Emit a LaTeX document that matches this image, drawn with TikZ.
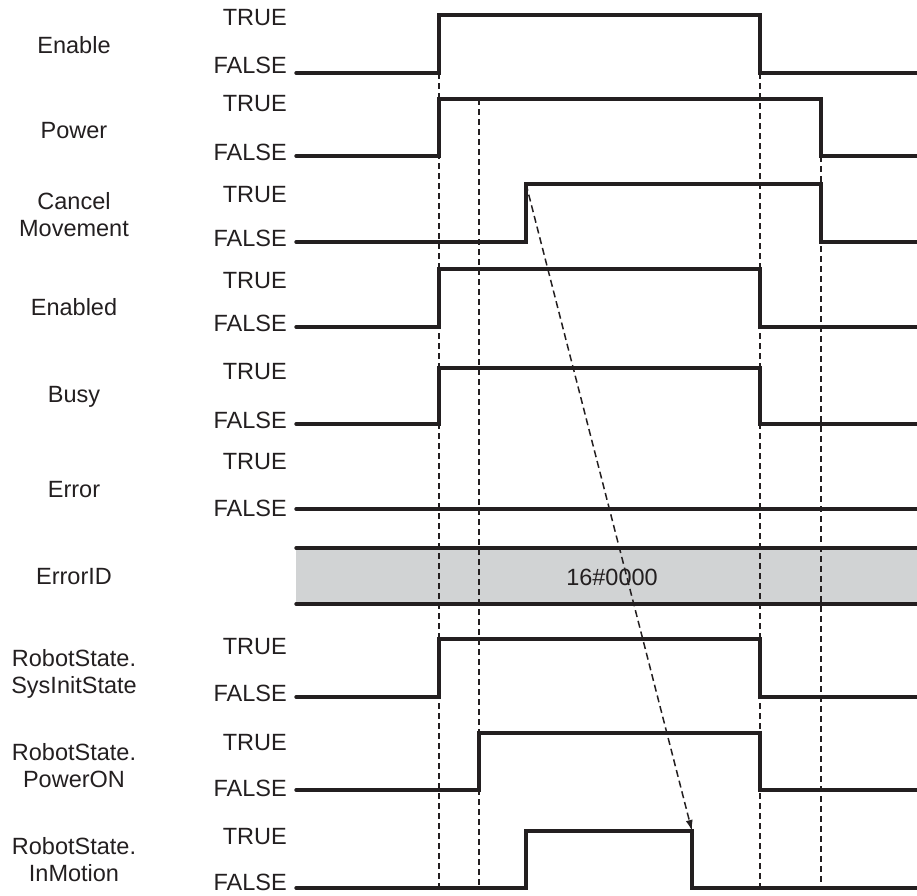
\documentclass[tikz,border=0pt]{standalone}
\usepackage{fontspec}
\setmainfont{Liberation Sans}
\usetikzlibrary{arrows.meta}
\definecolor{ink}{HTML}{231F20}
\definecolor{band}{HTML}{D1D3D4}
\begin{document}
\begin{tikzpicture}[x=1pt,y=-1pt,
  every node/.style={font=\fontsize{23.5}{27}\selectfont, text=ink, inner sep=0pt},
  wave/.style={draw=ink, line width=3.4pt, line join=miter, line cap=round},
  guide/.style={draw=ink, line width=1.5pt, dash pattern=on 6pt off 4pt},
  cause/.style={draw=ink, line width=1.5pt, dash pattern=on 7pt off 4pt, -{Latex[length=11pt,width=7pt]}},
  sig/.style={align=center},
  lvl/.style={anchor=east}]
\useasboundingbox (0,0) rectangle (917,895);

% ErrorID band
\fill[band] (296,548) rectangle (917,604);
\draw[wave] (296,548) -- (917,548);
\draw[wave] (296,604) -- (917,604);
\node (eidv) at (612,577) {16\#0000};

% guide lines
\draw[guide] (439,73) -- (439,888);
\draw[guide] (479,99) -- (479,888);
\draw[guide] (760,73) -- (760,888);
\draw[guide] (821,156) -- (821,888);

% waveforms
\draw[wave] (296,73) -- (439,73) -- (439,15) -- (760,15) -- (760,73) -- (917,73);
\draw[wave] (296,156) -- (439,156) -- (439,99) -- (821,99) -- (821,156) -- (917,156);
\draw[wave] (296,242) -- (526,242) -- (526,184) -- (821,184) -- (821,242) -- (917,242);
\draw[wave] (296,327) -- (439,327) -- (439,269) -- (760,269) -- (760,327) -- (917,327);
\draw[wave] (296,424) -- (439,424) -- (439,368) -- (760,368) -- (760,424) -- (917,424);
\draw[wave] (296,509) -- (917,509);
\draw[wave] (296,697) -- (439,697) -- (439,639) -- (760,639) -- (760,697) -- (917,697);
\draw[wave] (296,790) -- (479,790) -- (479,733) -- (760,733) -- (760,790) -- (917,790);
\draw[wave] (296,888) -- (526,888) -- (526,831) -- (692,831) -- (692,888) -- (917,888);

% cause arrow
\coordinate (cmrise) at (526,184);
\coordinate (imfall) at (692,831);
\draw[cause] (cmrise) -- (imfall);

% signal names
\node[sig] (n1) at (74,45) {Enable};
\node[sig] (n2) at (74,131) {Power};
\node[sig] (n3) at (74,215) {Cancel\\Movement};
\node[sig] (n4) at (74,307) {Enabled};
\node[sig] (n5) at (74,397) {Busy};
\node[sig] (n6) at (74,490) {Error};
\node[sig] (n7) at (74,577) {ErrorID};
\node[sig] (n8) at (74,674) {RobotState.\\SysInitState};
\node[sig] (n9) at (74,766) {RobotState.\\PowerON};
\node[sig] (n10) at (74,860) {RobotState.\\InMotion};

% levels
\node[lvl] (t1) at (287,18) {TRUE};
\node[lvl] (f1) at (287,65) {FALSE};
\node[lvl] (t2) at (287,104) {TRUE};
\node[lvl] (f2) at (287,152) {FALSE};
\node[lvl] (t3) at (287,195) {TRUE};
\node[lvl] (f3) at (287,238) {FALSE};
\node[lvl] (t4) at (287,281) {TRUE};
\node[lvl] (f4) at (287,323) {FALSE};
\node[lvl] (t5) at (287,372) {TRUE};
\node[lvl] (f5) at (287,420) {FALSE};
\node[lvl] (t6) at (287,462) {TRUE};
\node[lvl] (f6) at (287,508) {FALSE};
\node[lvl] (t8) at (287,647) {TRUE};
\node[lvl] (f8) at (287,693) {FALSE};
\node[lvl] (t9) at (287,743) {TRUE};
\node[lvl] (f9) at (287,788) {FALSE};
\node[lvl] (t10) at (287,837) {TRUE};
\node[lvl] (f10) at (287,882) {FALSE};
\end{tikzpicture}
\end{document}
